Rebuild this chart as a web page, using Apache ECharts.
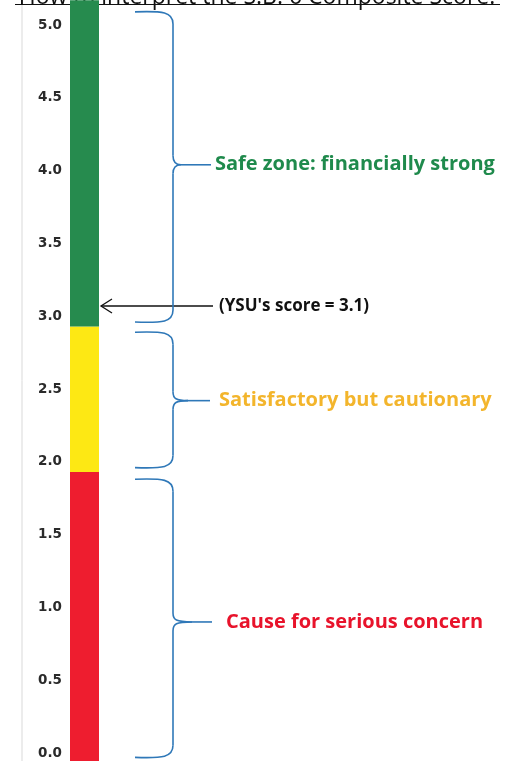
<!DOCTYPE html>
<html lang="en">
<head>
	<meta charset="UTF-8">
	<title>S.B. 6 Composite Score</title>
	<style>
		html, body { margin: 0; padding: 0; background: #fff; }
	</style>
</head>
<body>
	<div id="container" style="width: 506px;height:761px;"></div>

	<script src="https://cdn.jsdelivr.net/npm/echarts@6/dist/echarts.min.js"></script>
	<script>
        // zone bands (stacked)
        var categories = ['Score'];
        var belowZero = [-0.06];
        var redZone = [1.93];
        var yellowZone = [1.0];
        var greenZone = [2.24];
        var tickLabels = ['0.0', '0.5', '1.0', '1.5', '2.0', '2.5', '3.0', '3.5', '4.0', '4.5', '5.0'];

        // braces: [top, middle, bottom] in score units
        var braceGreen = [5.09, 4.04, 2.96];
        var braceYellow = [2.89, 2.42, 1.96];
        var braceRed = [1.88, 0.90, -0.03];
        var ysuScore = 3.07;

        var option = {
            animation: false,
            grid: { left: 66, right: 403, top: 25, bottom: 8 },
            xAxis: {
                type: 'category',
                data: categories,
                show: false
            },
            yAxis: {
                type: 'value',
                min: 0,
                max: 5,
                interval: 0.5,
                axisLine: { show: false },
                axisTick: { show: false },
                splitLine: { show: false },
                axisLabel: {
                    margin: 4,
                    color: '#2a2a2a',
                    fontFamily: 'DejaVu Sans',
                    fontWeight: 'bold',
                    fontSize: 13.5,
                    formatter: function (v) { return tickLabels[Math.round(v * 2)]; }
                }
            },
            series: [
                { type: 'bar', stack: 'z', data: belowZero, barWidth: 29, clip: false, itemStyle: { color: '#ee1d2f' } },
                { type: 'bar', stack: 'z', data: redZone, barWidth: 29, clip: false, itemStyle: { color: '#ee1d2f' } },
                { type: 'bar', stack: 'z', data: yellowZone, barWidth: 29, clip: false, itemStyle: { color: '#fde814' } },
                { type: 'bar', stack: 'z', data: greenZone, barWidth: 29, clip: false, itemStyle: { color: '#268b4e' } }
            ]
        };
        var myChart = echarts.init(document.getElementById('container'));
        myChart.setOption(option);

        function py(v) {
            return myChart.convertToPixel({ yAxisIndex: 0 }, v);
        }

        var braceStyle = { fill: null, stroke: '#2f78b8', lineWidth: 1.6 };

        // one curly brace built from curves and straight pieces
        function brace(b, tipX, lineEnd) {
            var t = py(b[0]), m = py(b[1]), s = py(b[2]);
            var x0 = 135, x1 = 173;
            function curve(a, c1, c2, e) {
                return {
                    type: 'bezierCurve',
                    shape: { x1: a[0], y1: a[1], cpx1: c1[0], cpy1: c1[1], cpx2: c2[0], cpy2: c2[1], x2: e[0], y2: e[1] },
                    style: braceStyle
                };
            }
            function seg(a, e) {
                return { type: 'line', shape: { x1: a[0], y1: a[1], x2: e[0], y2: e[1] }, style: braceStyle };
            }
            return [
                curve([x0, t], [x1 - 10, t - 1], [x1, t], [x1, t + 12]),
                seg([x1, t + 12], [x1, m - 9]),
                curve([x1, m - 9], [x1, m - 2], [x1 + 3, m], [tipX, m]),
                curve([tipX, m], [x1 + 3, m], [x1, m + 2], [x1, m + 9]),
                seg([x1, m + 9], [x1, s - 12]),
                curve([x1, s - 12], [x1, s], [x1 - 10, s + 1], [x0, s]),
                seg([tipX, m], [lineEnd, m])
            ];
        }

        function label(text, x, v, color) {
            return {
                type: 'text',
                x: x,
                y: py(v),
                style: {
                    text: text,
                    fill: color,
                    font: 'bold 20px "Open Sans"',
                    verticalAlign: 'middle'
                }
            };
        }

        var arrowY = py(ysuScore);

        var elements = [
            // left axis rule
            { type: 'line', shape: { x1: 22, y1: 0, x2: 22, y2: 761 }, style: { stroke: '#d9d9d9', lineWidth: 1 } },
            // clipped title
            {
                type: 'text', x: 257, y: 9,
                style: {
                    text: 'How to interpret the S.B. 6 Composite Score:',
                    fill: '#111', font: '23px "Open Sans"',
                    align: 'center', verticalAlign: 'bottom'
                }
            },
            { type: 'line', shape: { x1: 15, y1: 4.5, x2: 500, y2: 4.5 }, style: { stroke: '#111', lineWidth: 1.2 } },
            label('Safe zone: financially strong', 215, braceGreen[1], '#1f8a4c'),
            label('Satisfactory but cautionary', 219, braceYellow[1], '#f3b52c'),
            label('Cause for serious concern', 226, braceRed[1], '#e8132b'),
            // YSU arrow
            { type: 'line', shape: { x1: 101, y1: arrowY, x2: 213, y2: arrowY }, style: { stroke: '#111', lineWidth: 1.3 } },
            {
                type: 'polyline',
                shape: { points: [[112, arrowY - 7], [101, arrowY], [112, arrowY + 7]] },
                style: { fill: null, stroke: '#111', lineWidth: 1.3 }
            },
            {
                type: 'text', x: 219, y: arrowY,
                style: {
                    text: "(YSU's score = 3.1)",
                    fill: '#111', font: 'bold 17px "Open Sans"',
                    verticalAlign: 'middle'
                }
            }
        ];
        elements = elements.concat(brace(braceGreen, 181, 211), brace(braceYellow, 188, 210), brace(braceRed, 192, 212));

        myChart.setOption({ graphic: elements });
    </script>
</body>
</html>
